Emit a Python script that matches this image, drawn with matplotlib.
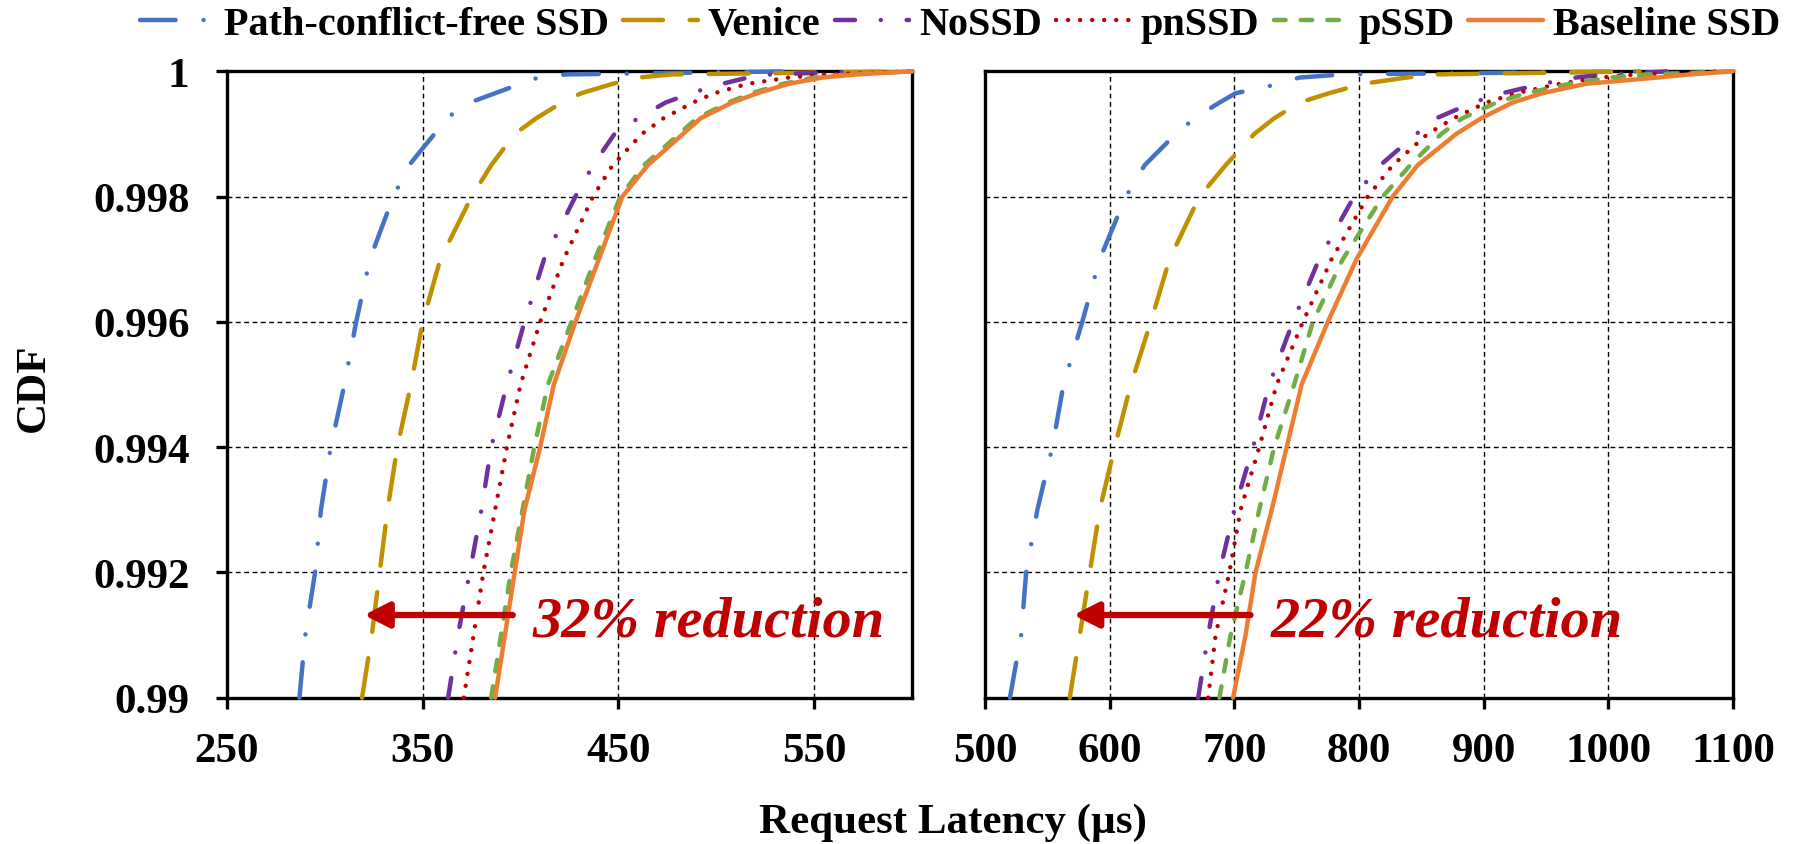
import matplotlib
matplotlib.use("Agg")
import matplotlib.pyplot as plt

# ---------------- data ----------------
cdf_levels = [0.990, 0.991, 0.992, 0.993, 0.994, 0.995, 0.996, 0.997, 0.998,
              0.9985, 0.999, 0.99925, 0.9995, 0.99965, 0.9998, 0.9999, 0.99995, 1.0]

series_names = ["Path-conflict-free SSD", "Venice", "NoSSD", "pnSSD", "pSSD", "Baseline SSD"]

# left panel latencies (us) at each CDF level
left_pcf      = [287, 290, 295, 298, 303, 310, 316, 323, 335, 343, 356, 362, 374, 387, 400, 409, 423, 540]
left_venice   = [319, 324, 328, 332, 337, 344, 350, 359, 375, 385, 397, 408, 421, 431, 447, 460, 477, 600]
left_nossd    = [363, 368, 374, 380, 385, 393, 402, 412, 428, 437, 448, 460, 474, 487, 503, 516, 528, 575]
left_pnssd    = [371, 376, 381, 387, 393, 400, 410, 422, 437, 447, 462, 473, 488, 499, 516, 537, 556, 600]
left_pssd     = [385, 390, 395, 401, 407, 414, 426, 438, 451, 463, 481, 490, 506, 518, 534, 550, 568, 600]
left_baseline = [387, 392, 397, 402, 410, 417, 428, 440, 452, 465, 483, 492, 508, 521, 537, 554, 572, 600]

# right panel latencies (us)
right_pcf      = [520, 529, 533, 542, 554, 563, 578, 592, 613, 628, 653, 668, 688, 701, 736, 752, 787, 1035]
right_venice   = [568, 576, 584, 592, 604, 617, 633, 648, 672, 693, 716, 732, 752, 776, 803, 838, 860, 1025]
right_nossd    = [671, 679, 688, 700, 715, 728, 747, 768, 796, 817, 846, 862, 891, 915, 947, 974, 998, 1049]
right_pnssd    = [679, 685, 696, 705, 720, 734, 755, 778, 807, 827, 855, 876, 902, 926, 961, 993, 1022, 1090]
right_pssd     = [688, 697, 709, 720, 732, 748, 763, 787, 819, 841, 866, 883, 910, 934, 969, 1001, 1031, 1100]
right_baseline = [699, 709, 717, 730, 742, 754, 775, 798, 827, 847, 878, 898, 923, 947, 982, 1039, 1065, 1100]

left_xticks = [250, 350, 450, 550]
right_xticks = [500, 600, 700, 800, 900, 1000, 1100]
y_ticks = [0.99, 0.992, 0.994, 0.996, 0.998, 1.0]
y_ticklabels = ["0.99", "0.992", "0.994", "0.996", "0.998", "1"]

left_arrow = (396, 320)   # from, to (us)
right_arrow = (713, 571)
arrow_level = 0.99132
left_note = "32% reduction"
right_note = "22% reduction"
left_note_x = 406
right_note_x = 729

# ---------------- style ----------------
colors = ["#4472C4", "#BF9000", "#7030A0", "#C00000", "#70AD47", "#ED7D31"]
dash_patterns = [(8, 6.3, 0.01, 6.3), (9, 6), (4.5, 5.8, 0.01, 5.8), (0.01, 2.7), (2.6, 3.4), None]
FONT = "Liberation Serif"
plt.rcParams["font.family"] = [FONT, "DejaVu Serif"]
plt.rcParams["font.weight"] = "bold"

fig = plt.figure(figsize=(18.08, 8.45), dpi=100)
W, H = 1808, 845
ax_l = fig.add_axes([227 / W, 1 - 698.7 / H, (912 - 227) / W, (698.7 - 72.3) / H])
ax_r = fig.add_axes([985 / W, 1 - 698.7 / H, (1733 - 985) / W, (698.7 - 72.3) / H])

left_data = [left_pcf, left_venice, left_nossd, left_pnssd, left_pssd, left_baseline]
right_data = [right_pcf, right_venice, right_nossd, right_pnssd, right_pssd, right_baseline]

handles = []
for ax, data in ((ax_l, left_data), (ax_r, right_data)):
    for i, xs in enumerate(data):
        kw = dict(color=colors[i], lw=3.2, zorder=4, clip_on=False,
                  dash_capstyle="round", solid_capstyle="round", solid_joinstyle="round",
                  dash_joinstyle="round")
        if dash_patterns[i] is not None:
            kw["dashes"] = dash_patterns[i]
        ln, = ax.plot(xs, cdf_levels, label=series_names[i], **kw)
        if ax is ax_l:
            handles.append(ln)

for ax, xt, xl in ((ax_l, left_xticks, (250, 600)), (ax_r, right_xticks, (500, 1100))):
    ax.set_xlim(*xl)
    ax.set_ylim(0.99, 1.0)
    ax.set_xticks(xt)
    ax.set_xticklabels([str(v) for v in xt])
    ax.set_yticks(y_ticks)
    ax.grid(True, color="black", linestyle=(0, (3.5, 2.5)), linewidth=1.0, zorder=1)
    ax.set_axisbelow(True)
    for s in ax.spines.values():
        s.set_linewidth(2.4)
        s.set_zorder(3)
    ax.tick_params(axis="x", direction="out", length=8, width=2.4, pad=17,
                   labelsize=31)
    for lab in ax.get_xticklabels():
        lab.set_fontweight("bold")

ax_l.set_yticklabels(y_ticklabels)
ax_l.tick_params(axis="y", direction="out", length=8, width=2.4, pad=19, labelsize=31)
for lab in ax_l.get_yticklabels():
    lab.set_fontweight("bold")
ax_r.tick_params(axis="y", length=0, labelleft=False)

red = "#C00000"
for ax, (x0, x1), tx, note in ((ax_l, left_arrow, left_note_x, left_note),
                                (ax_r, right_arrow, right_note_x, right_note)):
    ax.annotate("", xy=(x1, arrow_level), xytext=(x0, arrow_level),
                arrowprops=dict(arrowstyle="-|>,head_length=0.75,head_width=0.38",
                                color=red, lw=4.5, shrinkA=0, shrinkB=0,
                                mutation_scale=20), zorder=6)
    ax.text(tx, arrow_level, note, color=red, fontsize=42, fontweight="bold",
            fontstyle="italic", ha="left", va="center_baseline", zorder=6)

fig.text(953 / W, 1 - 823 / H, "Request Latency (µs)", ha="center", va="center",
         fontsize=31, fontweight="bold")
fig.text(34 / W, 1 - 388 / H, "CDF", ha="center", va="center", rotation=90,
         fontsize=31, fontweight="bold")

fig.legend(handles=handles, labels=series_names, loc="center",
           bbox_to_anchor=(960 / W, 1 - 25 / H), ncol=6, frameon=False,
           fontsize=29, handlelength=1.85, handletextpad=0.25, columnspacing=0.35,
           borderaxespad=0, borderpad=0)

fig.savefig("out.png", dpi=100)
